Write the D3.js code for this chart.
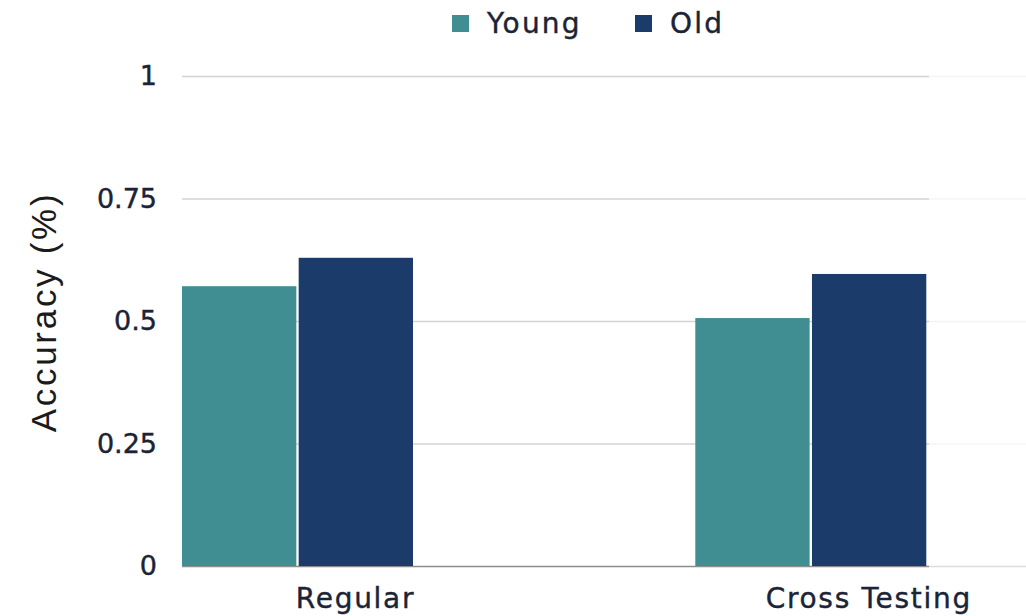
<!DOCTYPE html>
<html>
<head>
<meta charset="utf-8">
<script src="https://cdn.jsdelivr.net/npm/d3@7"></script>
<style>
  body { margin: 0; background: #fff; }
  svg { display: block; }
  .tick text { font-family: "DejaVu Sans", sans-serif; font-size: 27px; fill: #1b2436; stroke: #1b2436; stroke-width: 0.4px; }
  .label { stroke: #1b2436; stroke-width: 0.4px; }
</style>
</head>
<body>
<div id="chart"></div>
<script>
// chart data
var categories = ["Regular", "Cross Testing"];
var seriesNames = ["Young", "Old"];
var youngValues = [0.571, 0.506];
var oldValues = [0.629, 0.596];
var yTicks = [0, 0.25, 0.5, 0.75, 1];
var yTickLabels = ["0", "0.25", "0.5", "0.75", "1"];
var seriesColors = ["#418e92", "#1b3c6b"];

var svg = d3.select("#chart")
    .append("svg")
    .attr("width", 1026)
    .attr("height", 616);

var margin = {top: 76, left: 182, bottom: 50};
var plotRight = 929;
var baseY = 616 - margin.bottom;

var data = categories.map(function(c, i) {
    return {category: c, Young: youngValues[i], Old: oldValues[i]};
});

// scales
var groupWidth = 513.3;
var x0 = d3.scaleBand()
    .domain(categories)
    .range([margin.left, margin.left + groupWidth * categories.length])
    .paddingInner(0);

var x1 = d3.scaleBand()
    .domain(seriesNames)
    .range([0, 231])
    .paddingInner(0.02);

var y = d3.scaleLinear()
    .domain([0, 1])
    .range([baseY, margin.top]);

var color = d3.scaleOrdinal().domain(seriesNames).range(seriesColors);

// faint continuation of the lines past the plot area
svg.append("g")
    .selectAll("line")
    .data(yTicks)
    .enter().append("line")
    .attr("x1", plotRight)
    .attr("x2", 1026)
    .attr("y1", function(d) { return y(d) + 0.5; })
    .attr("y2", function(d) { return y(d) + 0.5; })
    .attr("stroke", function(d) { return d === 0 ? "#dcdcdc" : "#f4f4f4"; })
    .attr("stroke-width", 1.5);

// y axis with gridlines
var yAxis = svg.append("g")
    .attr("transform", "translate(" + margin.left + ",0)")
    .call(d3.axisLeft(y)
        .tickValues(yTicks)
        .tickFormat(function(d, i) { return yTickLabels[i]; })
        .tickSizeInner(-(plotRight - margin.left))
        .tickSizeOuter(0)
        .tickPadding(25));

yAxis.select(".domain").remove();
yAxis.selectAll(".tick line")
    .attr("stroke", function(d) { return d === 0 ? "#8c8c8c" : "#d3d3d3"; })
    .attr("stroke-width", 1.5);

// bars
svg.append("g")
    .selectAll("g")
    .data(data)
    .enter().append("g")
    .attr("transform", function(d) { return "translate(" + x0(d.category) + ",0)"; })
    .selectAll("rect")
    .data(function(d) { return seriesNames.map(function(key) { return {key: key, value: d[key]}; }); })
    .enter().append("rect")
    .attr("x", function(d) { return x1(d.key); })
    .attr("y", function(d) { return y(d.value); })
    .attr("width", x1.bandwidth())
    .attr("height", function(d) { return baseY - y(d.value); })
    .attr("fill", function(d) { return color(d.key); });

// category labels
svg.append("g")
    .selectAll("text")
    .data(categories)
    .enter().append("text")
    .attr("class", "label")
    .attr("x", function(d) { return x0(d) + 173.5; })
    .attr("y", 608)
    .attr("text-anchor", "middle")
    .attr("font-family", "DejaVu Sans, sans-serif")
    .attr("font-size", 28)
    .attr("letter-spacing", 1.7)
    .attr("fill", "#1b2436")
    .text(function(d) { return d; });

// y axis title
svg.append("text")
    .attr("transform", "translate(56," + 312 + ") rotate(-90)")
    .attr("text-anchor", "middle")
    .attr("font-family", "Liberation Sans, Arial, sans-serif")
    .attr("font-size", 35)
    .attr("letter-spacing", 2.7)
    .attr("fill", "#1b1b1b")
    .text("Accuracy (%)");

// legend
var legendX = [452, 635];
var legend = svg.append("g")
    .selectAll("g")
    .data(seriesNames)
    .enter().append("g")
    .attr("transform", function(d, i) { return "translate(" + legendX[i] + ",15)"; });

legend.append("rect")
    .attr("width", 17)
    .attr("height", 17)
    .attr("fill", color);

legend.append("text")
    .attr("class", "label")
    .attr("x", 35)
    .attr("y", 18)
    .attr("font-family", "DejaVu Sans, sans-serif")
    .attr("font-size", 28)
    .attr("letter-spacing", 2.2)
    .attr("fill", "#1b2436")
    .text(function(d) { return d; });
</script>
</body>
</html>
